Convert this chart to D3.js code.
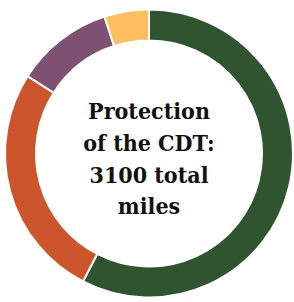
<!DOCTYPE html>
<html><head><meta charset="utf-8">
<script src="https://cdn.jsdelivr.net/npm/d3@7"></script>
<style>html,body{margin:0;padding:0;background:#fff;}svg{display:block;}</style>
</head><body>
<svg id="chart" width="294" height="302"></svg>
<script>
const categories = ["Protected", "Partially protected", "Threatened", "Unknown"];
const miles = [1785, 820, 340, 155];
const colors = ["#30542f", "#cd552b", "#7e5173", "#fdbe5f"];
const titleLines = ["Protection", "of the CDT:", "3100 total", "miles"];

const svg = d3.select("#chart");
const cx = 149, cy = 153.5, rOuter = 144, rInner = 113;
const g = svg.append("g").attr("transform", `translate(${cx},${cy})`);
const pie = d3.pie().sort(null).value(d => d)(miles);
const arc = d3.arc().innerRadius(rInner).outerRadius(rOuter);
g.selectAll("path").data(pie).join("path")
  .attr("d", arc)
  .attr("fill", (d, i) => colors[i])
  .attr("stroke", "#fff").attr("stroke-width", 2);

const lineH = 31.7;
g.append("text")
  .attr("text-anchor", "middle")
  .attr("font-family", "'DejaVu Serif Condensed','DejaVu Serif',serif")
  .attr("font-weight", "bold")
  .attr("font-size", 23)
  .attr("fill", "#111")
  .selectAll("tspan").data(titleLines).join("tspan")
  .attr("x", 0)
  .attr("y", (d, i) => -34.2 + i * lineH)
  .text(d => d);
</script>
</body></html>
